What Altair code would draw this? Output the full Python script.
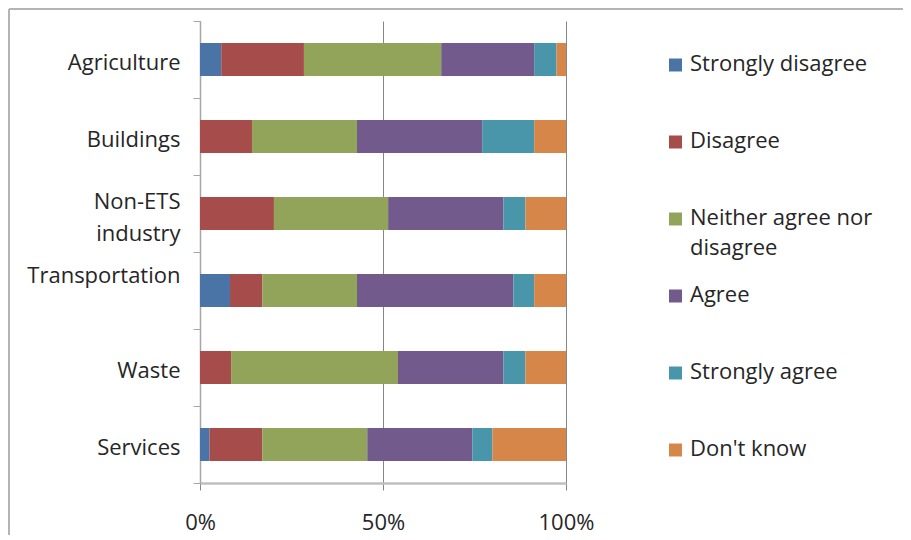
import altair as alt
import pandas as pd

sectors = ["Agriculture", "Buildings", "Non-ETS industry", "Transportation", "Waste", "Services"]
answers = ["Strongly disagree", "Disagree", "Neither agree nor disagree", "Agree", "Strongly agree", "Don't know"]
legend_labels = ["Strongly disagree", "Disagree", "Neither agree nor|disagree", "Agree", "Strongly agree", "Don't know"]
colors = ["#4A74A6", "#A64D4B", "#92A35A", "#725B8C", "#4996AA", "#D7864A"]

strongly_disagree = [5.8, 0.0, 0.0, 8.2, 0.0, 2.6]
disagree = [22.6, 14.2, 20.2, 8.8, 8.5, 14.4]
neither = [37.5, 28.7, 31.2, 25.9, 45.6, 28.7]
agree = [25.4, 34.2, 31.5, 42.7, 28.8, 28.7]
strongly_agree = [6.1, 14.2, 6.0, 5.7, 6.0, 5.5]
dont_know = [2.6, 8.7, 11.1, 8.7, 11.1, 20.1]

series = [strongly_disagree, disagree, neither, agree, strongly_agree, dont_know]
rows = []
for ai, (ans, vals) in enumerate(zip(answers, series)):
    for s, v in zip(sectors, vals):
        rows.append({"sector": s, "answer": ans, "idx": ai, "value": v})
df = pd.DataFrame(rows)
leg = pd.DataFrame({"answer": answers, "label": legend_labels})

FONT = "Open Sans"
FS = 22
TXT = "#262626"
W, H = 366, 462

color_scale = alt.Scale(domain=answers, range=colors)

bars = alt.Chart(df).mark_bar(size=33).encode(
    y=alt.Y("sector:N", sort=sectors, title=None,
            scale=alt.Scale(paddingInner=0, paddingOuter=0),
            axis=alt.Axis(
                labelExpr="datum.label == 'Non-ETS industry' ? ['Non-ETS', 'industry'] : datum.label",
                labelLineHeight=32, labelFontSize=FS, labelFont=FONT, labelColor=TXT,
                labelPadding=13, tickBand="extent", tickSize=7, tickColor="#A6A6A6",
                domainColor="#A6A6A6", domainWidth=1.5,
                labelOffset={"condition": [
                    {"test": "datum.value == 'Transportation'", "value": -15},
                    {"test": "datum.value == 'Non-ETS industry'", "value": -12},
                ], "value": 3},
            )),
    x=alt.X("value:Q", stack="normalize", title=None,
            scale=alt.Scale(domain=[0, 1], nice=False),
            axis=alt.Axis(values=[0, 0.5, 1], format="%", grid=True, gridColor="#868686",
                          tickSize=7, tickColor="#868686", domainColor="#BFBFBF", domainWidth=2.5,
                          labelFlush=False,
                          labelFontSize=FS, labelFont=FONT, labelColor=TXT, labelPadding=22)),
    color=alt.Color("answer:N", scale=color_scale, legend=None),
    order=alt.Order("idx:Q"),
)

leg_sq = alt.Chart(leg).mark_square(size=169, opacity=1, yOffset=5.5).encode(
    x=alt.value(475.5),
    y=alt.Y("answer:N", sort=answers, axis=None),
    color=alt.Color("answer:N", scale=color_scale, legend=None),
)
leg_tx = alt.Chart(leg).mark_text(align="left", baseline="top", dy=-6, lineBreak="|", lineHeight=30,
                                  fontSize=FS, font=FONT, color=TXT).encode(
    x=alt.value(490),
    y=alt.Y("answer:N", sort=answers, axis=None),
    text="label:N",
)
legend = alt.layer(leg_sq, leg_tx)

one = pd.DataFrame({"a": [0]})
border_top = alt.Chart(one).mark_rule(color="#B4B4B4", strokeWidth=2).encode(
    x=alt.value(-191), x2=alt.value(760), y=alt.value(-12))
border_left = alt.Chart(one).mark_rule(color="#B4B4B4", strokeWidth=2).encode(
    x=alt.value(-191), y=alt.value(-12), y2=alt.value(560))

chart = alt.layer(bars, legend, border_top, border_left).resolve_scale(y="independent").properties(
    width=W, height=H,
    autosize=alt.AutoSizeParams(type="none"),
    padding={"left": 192, "top": 13, "right": 337, "bottom": 52},
).configure_view(stroke=None)

chart.save("out.html", embed_options={"renderer": "svg", "actions": False})
